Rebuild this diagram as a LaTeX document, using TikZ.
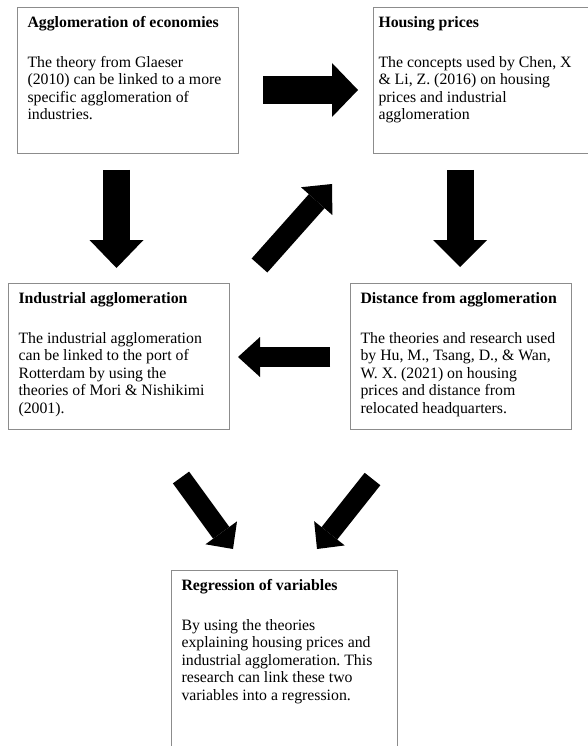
\documentclass[tikz,border=0pt]{standalone}
\usepackage{fontspec}
\setmainfont{Liberation Serif}
\usetikzlibrary{arrows.meta}
\frenchspacing

% text of one box: width, height, bold title, lines of the body
\newcommand{\cardtext}[4]{\makebox[#1][l]{\parbox[t][#2][t]{300pt}{%
  \fontsize{15.8pt}{17.4pt}\selectfont\rule{0pt}{20pt}\textbf{#3}\\[22.6pt]#4}}}

\begin{document}
\begin{tikzpicture}[x=1pt,y=-1pt,
  card/.style={draw=black!45,line width=1pt,inner xsep=10pt,inner ysep=0pt,anchor=north west},
  fatarrow/.style n args={3}{line width=#1pt,line cap=butt,
    -{Triangle[width=#2pt,length=#3pt,line width=0pt]}}]
%\draw[step=10,gray,very thin] (0,0) grid (588,746); %background grid
\useasboundingbox (0,0) rectangle (588,746);
\clip (0,0) rectangle (588,746);

\node[card] (econ) at (17,7) {\cardtext{201pt}{146pt}{Agglomeration of economies}{%
  The theory from Glaeser\\(2010) can be linked to a more\\specific agglomeration of\\industries.}};
\node[card,inner xsep=5pt] (housing) at (373,7) {\cardtext{230pt}{146pt}{Housing prices}{%
  The concepts used by Chen, X\\\& Li, Z. (2016) on housing\\prices and industrial\\agglomeration}};
\node[card] (indus) at (8,283) {\cardtext{201pt}{146pt}{Industrial agglomeration}{%
  The industrial agglomeration\\can be linked to the port of\\Rotterdam by using the\\theories of Mori \& Nishikimi\\(2001).}};
\node[card] (dist) at (350,283) {\cardtext{201pt}{146pt}{Distance from agglomeration}{%
  The theories and research used\\by Hu, M., Tsang, D., \& Wan,\\W. X. (2021) on housing\\prices and distance from\\relocated headquarters.}};
\node[card] (regr) at (171,570) {\cardtext{206pt}{200pt}{Regression of variables}{%
  By using the theories\\explaining housing prices and\\industrial agglomeration. This\\research can link these two\\variables into a regression.}};

% arrow ends
\coordinate (eh-tail) at (263,90);
\coordinate (eh-tip) at (358,90);
\coordinate (ei-tail) at (116.5,170);
\coordinate (ei-tip) at (116.5,268);
\coordinate (hd-tail) at (460,170);
\coordinate (hd-tip) at (460,267);
\coordinate (ih-tail) at (259.5,265.5);
\coordinate (ih-tip) at (332,184);
\coordinate (di-tail) at (330,357);
\coordinate (di-tip) at (238,357);
\coordinate (ir-tail) at (181,477.5);
\coordinate (ir-tip) at (233,549);
\coordinate (dr-tail) at (372.5,479);
\coordinate (dr-tip) at (317,549);

\draw[fatarrow={28}{54}{26}] (eh-tail)--(eh-tip);
\draw[fatarrow={27}{54}{28}] (ei-tail)--(ei-tip);
\draw[fatarrow={27}{54}{27}] (hd-tail)--(hd-tip);
\draw[fatarrow={21}{42}{23}] (ih-tail)--(ih-tip);
\draw[fatarrow={20}{40}{22}] (di-tail)--(di-tip);
\draw[fatarrow={20}{39}{20}] (ir-tail)--(ir-tip);
\draw[fatarrow={20}{39}{20}] (dr-tail)--(dr-tip);

\end{tikzpicture}
\end{document}
